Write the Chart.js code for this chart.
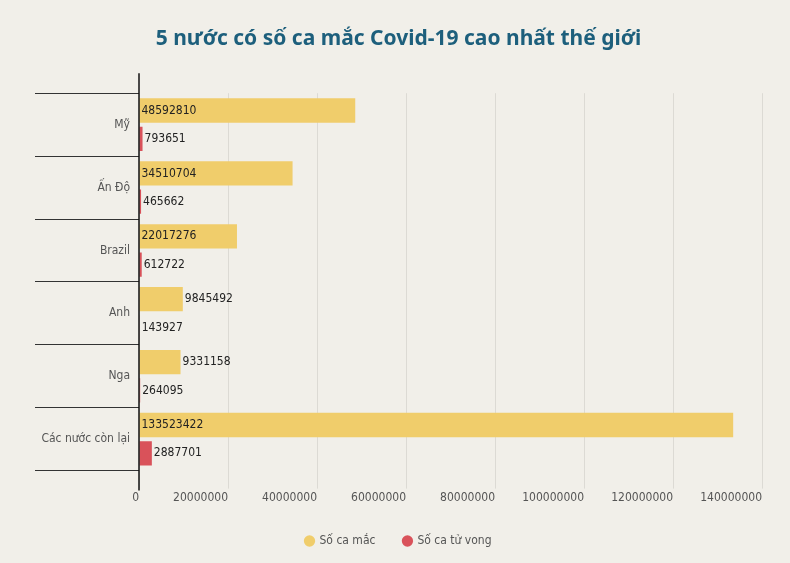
<!DOCTYPE html>
<html><head><meta charset="utf-8">
<script src="https://cdn.jsdelivr.net/npm/chart.js@4"></script>
<style>html,body{margin:0;background:#f1efe9;}#w{width:790px;height:563px;}</style>
</head><body><div id="w"><canvas id="c"></canvas></div>
<script>
const categories = ["Mỹ","Ấn Độ","Brazil","Anh","Nga","Các nước còn lại"];
const cases = [48592810,34510704,22017276,9845492,9331158,133523422];
const deaths = [793651,465662,612722,143927,264095,2887701];
const seriesNames = ["Số ca mắc","Số ca tử vong"];
const FONT = '"DejaVu Sans Condensed", "Liberation Sans Narrow", sans-serif';

const labelPlugin = {
  id:'lbl',
  afterDatasetsDraw(chart){
    const ctx = chart.ctx;
    ctx.save();
    ctx.font = '12px ' + FONT;
    ctx.fillStyle = '#222';
    ctx.textBaseline = 'middle';
    chart.data.datasets.forEach((ds,i)=>{
      chart.getDatasetMeta(i).data.forEach((bar,j)=>{
        const t = String(ds.data[j]);
        const w = ctx.measureText(t).width;
        const x = (w + 4 < bar.x - bar.base) ? bar.base + 2 : bar.x + 2;
        ctx.fillText(t, x, bar.y);
      });
    });
    // category labels
    const ys = chart.scales.y, x0 = chart.scales.x.getPixelForValue(0);
    ctx.fillStyle = '#555'; ctx.textAlign = 'right';
    chart.data.labels.forEach((l,j)=>{ ctx.fillText(l, x0 - 9, ys.getPixelForValue(j)); });
    ctx.restore();
  }
};
const axisLine = {
  id:'axl',
  afterDraw(chart){
    const ctx = chart.ctx, x = chart.scales.x.getPixelForValue(0), a = chart.chartArea;
    ctx.save(); ctx.strokeStyle='#111'; ctx.lineWidth=1.5;
    ctx.beginPath(); ctx.moveTo(x, a.top-20); ctx.lineTo(x, a.bottom+20); ctx.stroke(); ctx.restore();
  }
};

new Chart(document.getElementById('c'), {
  type:'bar',
  data:{labels:categories, datasets:[
    {label:seriesNames[0], data:cases, backgroundColor:'#f0cd6b', categoryPercentage:0.9, barPercentage:0.86},
    {label:seriesNames[1], data:deaths, backgroundColor:'#d9525a', categoryPercentage:0.9, barPercentage:0.86}
  ]},
  options:{
    indexAxis:'y', responsive:true, maintainAspectRatio:false, animation:false,
    layout:{padding:{left:35,right:28,top:0,bottom:6}},
    plugins:{
      title:{display:true, text:'5 nước có số ca mắc Covid-19 cao nhất thế giới', color:'#1d5f7c',
        font:{family:'"Noto Sans", sans-serif', size:21, weight:'bold'}, padding:{top:26,bottom:42}},
      legend:{position:'bottom', labels:{usePointStyle:true, pointStyle:'circle', boxWidth:8, boxHeight:8, padding:28, color:'#555',
        font:{family:FONT, size:12}}},
      tooltip:{enabled:false}
    },
    scales:{
      x:{min:0,max:140000000, ticks:{stepSize:20000000, align:'end', color:'#555', padding:2,
          callback:v=>String(v), font:{family:FONT, size:12}},
        grid:{color:'#dcdad4', tickLength:18, tickColor:'#dcdad4'}, border:{display:false}},
      y:{ticks:{display:false},
        afterFit:s=>{s.width=104;},
        grid:{offset:true, drawOnChartArea:false, tickLength:104, color:'#333'}, border:{display:false}}
    }
  },
  plugins:[labelPlugin, axisLine]
});
</script></body></html>
